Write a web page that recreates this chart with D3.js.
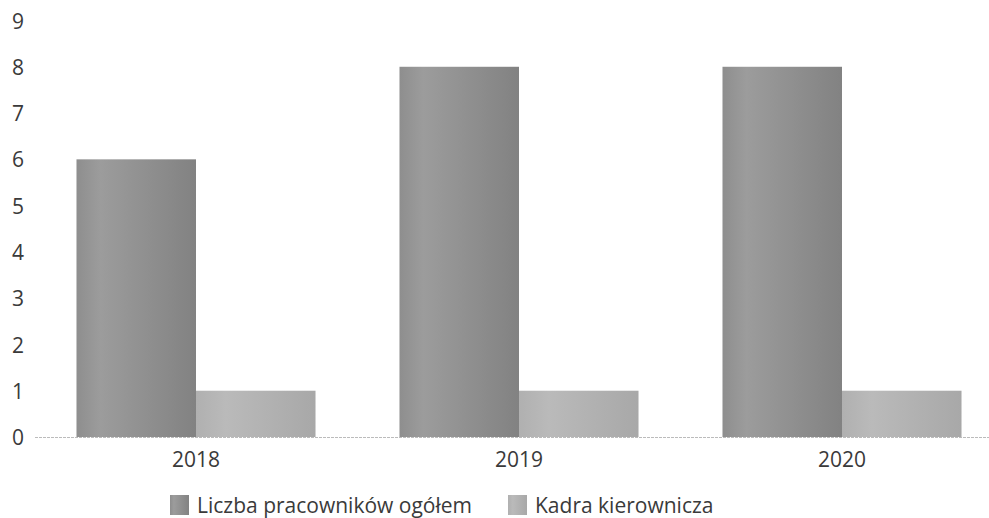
<!DOCTYPE html>
<html><head><meta charset="utf-8">
<script src="https://cdn.jsdelivr.net/npm/d3@7"></script>
<style>body{margin:0;background:#fff}svg{display:block}text{font-family:"Open Sans",sans-serif;fill:#3a3a3a}</style>
</head><body><svg id="c" width="989" height="518"></svg>
<script>
const categories = ["2018","2019","2020"];
const seriesNames = ["Liczba pracowników ogółem","Kadra kierownicza"];
const totalStaff = [6,8,8];
const management = [1,1,1];
const yTicks = [0,1,2,3,4,5,6,7,8,9];

const svg = d3.select("#c");
const x0 = d3.scaleBand().domain(categories).range([34.5,1003.5]).paddingInner(0.26).paddingOuter(0.13);
const x1 = d3.scaleBand().domain(seriesNames).range([0,x0.bandwidth()]);
const y = d3.scaleLinear().domain([0,9]).range([437,20.5]);

const defs = svg.append("defs");
const g1 = defs.append("linearGradient").attr("id","gDark");
g1.append("stop").attr("offset","0%").attr("stop-color","#8e8e8e");
g1.append("stop").attr("offset","20%").attr("stop-color","#9c9c9c");
g1.append("stop").attr("offset","100%").attr("stop-color","#828282");
const g2 = defs.append("linearGradient").attr("id","gLight");
g2.append("stop").attr("offset","0%").attr("stop-color","#b0b0b0");
g2.append("stop").attr("offset","25%").attr("stop-color","#bababa");
g2.append("stop").attr("offset","100%").attr("stop-color","#a8a8a8");
const fills = ["url(#gDark)","url(#gLight)"];

// baseline
svg.append("line").attr("x1",35).attr("x2",989).attr("y1",y(0)+0.5).attr("y2",y(0)+0.5)
  .attr("stroke","#bbb").attr("stroke-width",1).attr("stroke-dasharray","3,1");

const data = categories.map((c,i)=>({c, vals:[totalStaff[i],management[i]]}));
const grp = svg.selectAll("g.cat").data(data).join("g").attr("transform",d=>`translate(${x0(d.c)},0)`);
grp.selectAll("rect").data(d=>d.vals.map((v,j)=>({v,s:seriesNames[j],j}))).join("rect")
  .attr("x",d=>x1(d.s)).attr("width",x1.bandwidth())
  .attr("y",d=>y(d.v)).attr("height",d=>y(0)-y(d.v))
  .attr("fill",d=>fills[d.j]);

// y axis labels
const yAxis = d3.axisLeft(y).tickValues(yTicks).tickSize(0).tickPadding(0);
const ya = svg.append("g").attr("transform","translate(24,0)").call(yAxis);
ya.select(".domain").remove();
ya.selectAll("text").style("font-size","21px").style("font-family","'Open Sans',sans-serif").attr("fill","#3a3a3a").attr("dy","0.36em");

// x axis labels
const xAxis = d3.axisBottom(x0).tickSize(0).tickPadding(0);
const xa = svg.append("g").attr("transform","translate(0,467)").call(xAxis);
xa.select(".domain").remove();
xa.selectAll("text").style("font-size","21px").style("font-family","'Open Sans',sans-serif").attr("fill","#3a3a3a").attr("dy","0").attr("y",0);

// legend
const legend = [{x:170,tx:197},{x:508,tx:535}];
seriesNames.forEach((s,i)=>{
  svg.append("rect").attr("x",legend[i].x).attr("y",495).attr("width",19).attr("height",20).attr("fill",fills[i]);
  svg.append("text").attr("x",legend[i].tx).attr("y",513).style("font-size","21px").text(s);
});
</script></body></html>
